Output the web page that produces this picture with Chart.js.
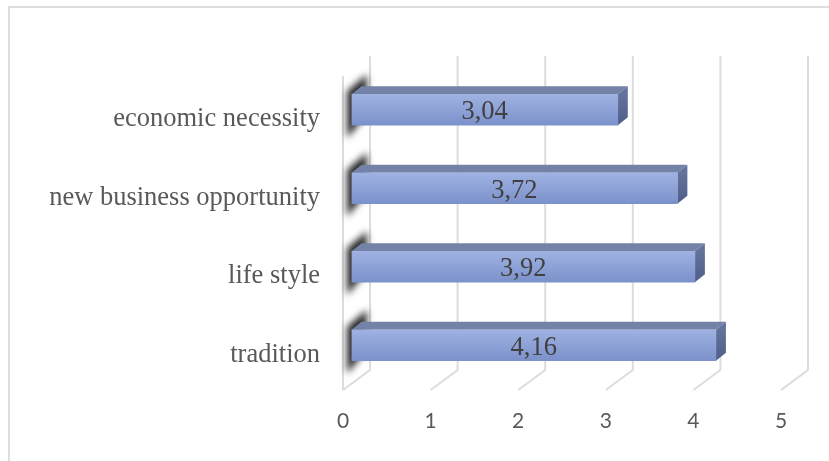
<!DOCTYPE html>
<html>
<head>
<meta charset="utf-8">
<style>
  html, body { margin: 0; padding: 0; background: #fff; }
  #wrap { position: relative; width: 829px; height: 461px; }
</style>
<script src="https://cdn.jsdelivr.net/npm/chart.js@4"></script>
</head>
<body>
<div id="wrap"><canvas id="barChart" width="829" height="461"></canvas></div>
<script>
const categories = ['economic necessity', 'new business opportunity', 'life style', 'tradition'];
const scores = [3.04, 3.72, 3.92, 4.16];
const tickLabels = [0, 1, 2, 3, 4, 5];

// fake 3D depth, same numbers the picture uses
const frontShiftX = 8.5, frontShiftY = -9.5;   // bar front face vs floor edge plane
const backX = 27, backY = -20;  // floor edge -> back wall
const depthX = 10, depthY = -8;

const wallPlugin = {
  id: 'wall',
  beforeDatasetsDraw(chart) {
    const ctx = chart.ctx, xs = chart.scales.x;
    const floorY = 390, topY = 56;
    ctx.save();
    // outer chart frame
    ctx.strokeStyle = '#dedede';
    ctx.lineWidth = 2;
    ctx.strokeRect(9, 7, 840, 470);
    ctx.strokeStyle = '#dcdcdc';
    ctx.lineWidth = 2;
    tickLabels.forEach(v => {
      const p = xs.getPixelForValue(v);
      ctx.beginPath();
      ctx.moveTo(p, floorY);
      ctx.lineTo(p + backX, floorY + backY);
      ctx.lineTo(p + backX, topY);
      ctx.stroke();
    });
    // left wall front edge
    ctx.beginPath();
    ctx.moveTo(xs.getPixelForValue(0), floorY);
    ctx.lineTo(xs.getPixelForValue(0), 76);
    ctx.stroke();
    ctx.restore();
  },
  beforeDatasetDraw(chart) {
    const ctx = chart.ctx, meta = chart.getDatasetMeta(0);
    // shadows the bars throw on the side wall
    ctx.save();
    ctx.filter = 'blur(3.5px)';
    ctx.fillStyle = '#262626';
    meta.data.forEach(b => {
      const h = b.height / 2, cy = b.y + frontShiftY;
      ctx.beginPath();
      ctx.moveTo(347, cy - h - 3);
      ctx.lineTo(367, cy - h - 20);
      ctx.lineTo(366, cy + h - 10);
      ctx.lineTo(347, cy + h + 13);
      ctx.closePath();
      ctx.fill();
    });
    ctx.restore();
    // everything in the dataset is drawn on the shifted front plane
    ctx.save();
    ctx.translate(frontShiftX, frontShiftY);
    meta.data.forEach(b => {
      const h = b.height / 2, l = b.base, r = b.x, t = b.y - h, bt = b.y + h;
      ctx.fillStyle = '#7382a6';
      ctx.beginPath();
      ctx.moveTo(l, t);
      ctx.lineTo(l + depthX, t + depthY);
      ctx.lineTo(r + depthX, t + depthY);
      ctx.lineTo(r, t);
      ctx.closePath();
      ctx.fill();
      const g = ctx.createLinearGradient(0, t, 0, bt);
      g.addColorStop(0, '#64739c');
      g.addColorStop(1, '#4f5e88');
      ctx.fillStyle = g;
      ctx.beginPath();
      ctx.moveTo(r, t);
      ctx.lineTo(r + depthX, t + depthY);
      ctx.lineTo(r + depthX, bt + depthY);
      ctx.lineTo(r, bt);
      ctx.closePath();
      ctx.fill();
    });
  },
  afterDatasetDraw(chart) {
    const ctx = chart.ctx, meta = chart.getDatasetMeta(0);
    // value labels, decimal comma
    ctx.font = '26.5px "Liberation Serif"';
    ctx.fillStyle = '#404040';
    ctx.textAlign = 'center';
    ctx.textBaseline = 'middle';
    meta.data.forEach((b, i) => {
      ctx.fillText(scores[i].toFixed(2).replace('.', ','), (b.base + b.x) / 2, b.y + 2.5);
    });
    ctx.restore();
  }
};

new Chart(document.getElementById('barChart'), {
  type: 'bar',
  data: {
    labels: categories,
    datasets: [{
      data: scores,
      backgroundColor: ctx => {
        const ys = ctx.chart.scales.y;
        const cy = ys ? ys.getPixelForValue(ctx.dataIndex) : NaN;
        if (!Number.isFinite(cy)) return '#8ba0d6';
        const g = ctx.chart.ctx.createLinearGradient(0, cy - 15.5, 0, cy + 15.5);
        g.addColorStop(0, '#9fb2e2');
        g.addColorStop(1, '#7b91ca');
        return g;
      },
      borderWidth: 0,
      barThickness: 31
    }]
  },
  options: {
    indexAxis: 'y',
    responsive: false,
    animation: false,
    layout: { padding: { left: 0, right: 48, top: 80, bottom: 0 } },
    plugins: { legend: { display: false }, tooltip: { enabled: false } },
    scales: {
      x: {
        min: 0, max: 5,
        grid: { display: false },
        border: { display: false },
        afterFit(s) { s.height = 67; },
        ticks: {
          stepSize: 1,
          padding: 7,
          color: '#595959',
          maxRotation: 0,
          font: { family: 'Lato', size: 21 }
        }
      },
      y: {
        grid: { display: false },
        border: { display: false },
        afterFit(s) { s.width = 343; },
        ticks: {
          padding: 15,
          color: '#595959',
          font: { family: '"Liberation Serif"', size: 26.5 }
        }
      }
    }
  },
  plugins: [wallPlugin]
});
</script>
</body>
</html>
